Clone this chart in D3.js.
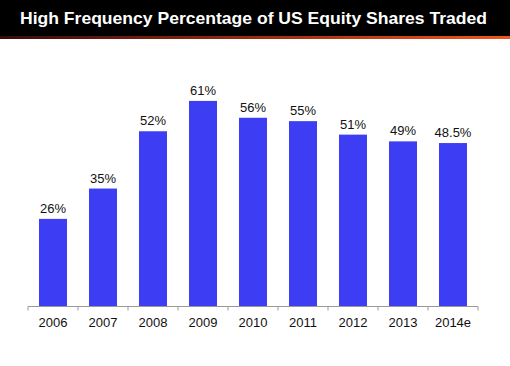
<!DOCTYPE html>
<html><head><meta charset="utf-8">
<script src="https://cdn.jsdelivr.net/npm/d3@7"></script>
<style>body{margin:0;background:#fff;}svg{display:block;}</style>
</head><body>
<svg id="c" width="510" height="366"></svg>
<script>
const title = "High Frequency Percentage of US Equity Shares Traded";
const categories = ["2006","2007","2008","2009","2010","2011","2012","2013","2014e"];
const values = [26, 35, 52, 61, 56, 55, 51, 49, 48.5];
const valueLabels = ["26%","35%","52%","61%","56%","55%","51%","49%","48.5%"];

const svg = d3.select("#c");
const defs = svg.append("defs");
const g = defs.append("linearGradient").attr("id","og").attr("x1","0").attr("x2","1");
g.append("stop").attr("offset","0").attr("stop-color","#3a0a0a");
g.append("stop").attr("offset","0.5").attr("stop-color","#9a2a12");
g.append("stop").attr("offset","1").attr("stop-color","#f0561c");

svg.append("rect").attr("x",0).attr("y",0).attr("width",510).attr("height",37).attr("fill","#000");
svg.append("rect").attr("x",0).attr("y",36).attr("width",510).attr("height",3).attr("fill","url(#og)");
svg.append("text").attr("x",20).attr("y",24)
  .attr("fill","#fff").attr("font-family","Liberation Sans, Arial, sans-serif")
  .attr("font-weight","bold").attr("font-size",16.5)
  .attr("textLength",467).attr("lengthAdjust","spacingAndGlyphs")
  .text(title);

const x = d3.scaleBand().domain(categories).range([28,478]).paddingInner(0.44).paddingOuter(0.22);
const y = d3.scaleLinear().domain([0,70]).range([306.5, 306.5-70*3.37]);

svg.selectAll("rect.bar").data(values).join("rect").attr("class","bar")
  .attr("x",(d,i)=>x(categories[i])).attr("width",x.bandwidth())
  .attr("y",d=>y(d)).attr("height",d=>y(0)-y(d)).attr("fill","#3d3df3");

svg.selectAll("text.vl").data(values).join("text").attr("class","vl")
  .attr("x",(d,i)=>x(categories[i])+x.bandwidth()/2).attr("y",d=>y(d)-6)
  .attr("text-anchor","middle").attr("font-family","Liberation Sans, Arial, sans-serif")
  .attr("font-size",13).attr("fill","#111").text((d,i)=>valueLabels[i]);

// axis
const ax = svg.append("g");
ax.append("line").attr("x1",28).attr("x2",478).attr("y1",306.5).attr("y2",306.5).attr("stroke","#999").attr("stroke-width",1);
const step = x.step();
const bounds = d3.range(categories.length+1).map(i=>28+i*(450/categories.length));
ax.selectAll("line.t").data(bounds).join("line").attr("class","t")
  .attr("x1",d=>d).attr("x2",d=>d).attr("y1",306.5).attr("y2",310.5).attr("stroke","#999");
ax.selectAll("text.tl").data(categories).join("text").attr("class","tl")
  .attr("x",d=>x(d)+x.bandwidth()/2).attr("y",327)
  .attr("text-anchor","middle").attr("font-family","Liberation Sans, Arial, sans-serif")
  .attr("font-size",13).attr("fill","#111").text(d=>d);
</script>
</body></html>
